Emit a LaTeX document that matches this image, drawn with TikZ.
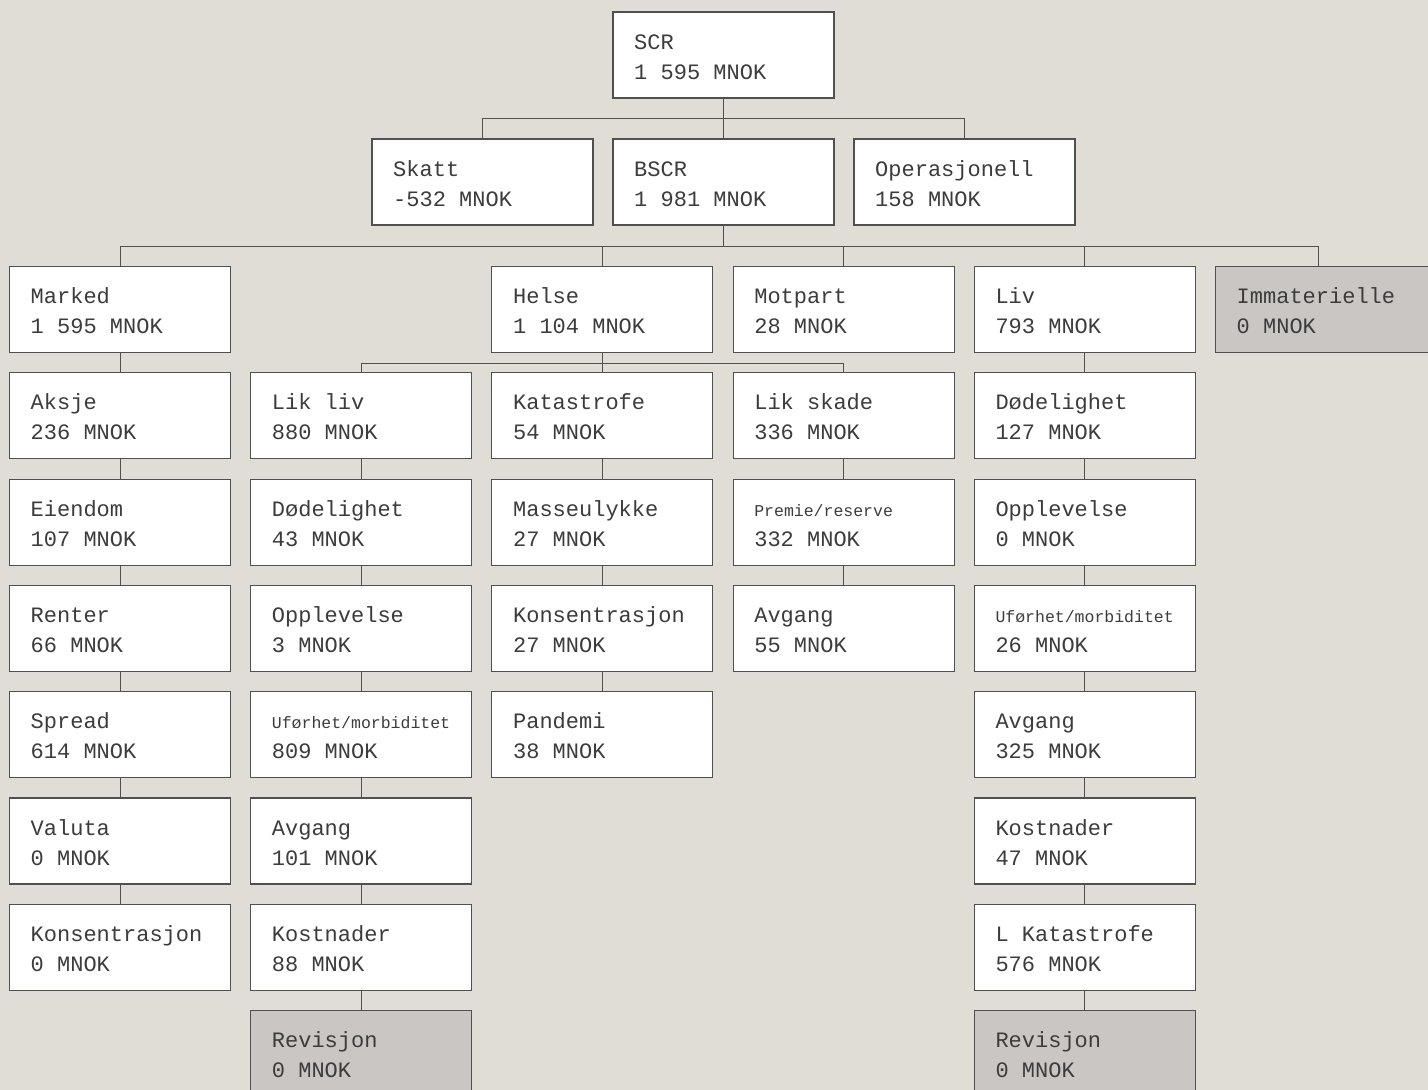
\documentclass[tikz,border=0pt]{standalone}
\usepackage{fontspec}
\newfontfamily\monofont{Liberation Mono}
\definecolor{bg}{HTML}{E0DCD6}
\definecolor{grayfill}{HTML}{CAC6C3}
\definecolor{edge}{HTML}{505050}
\definecolor{ink}{HTML}{3C3C3C}
\newcommand\smalltxt{\fontsize{16.5}{20}\selectfont}
\newcommand\bx[6]{%
  \node[boxstyle,#6] (#1) at (#2+110.5,#3+43) {};
  \node[txtstyle] (#1-a) at (#2+21,#3+37) {#4};
  \node[txtstyle] (#1-b) at (#2+21,#3+67) {#5};
}
\begin{document}
\begin{tikzpicture}[x=1pt,y=-1pt,
  boxstyle/.style={draw=edge,line width=1.1pt,fill=white,rectangle,
    minimum width=221pt,minimum height=86pt,inner sep=0pt},
  grayboxstyle/.style={fill=grayfill},
  txtstyle/.style={anchor=base west,inner sep=0pt,text=ink,
    font=\monofont\fontsize{22}{30}\selectfont},
  conn/.style={draw=edge,line width=1pt}]
\useasboundingbox (0,0) rectangle (1428,1090);
\fill[bg] (0,0) rectangle (1428,1090);
\clip (0,0) rectangle (1428,1090);
% top
\bx{scr}{613}{12}{SCR}{1 595 MNOK}{}
\bx{skatt}{372}{139}{Skatt}{-532 MNOK}{}
\bx{bscr}{613}{139}{BSCR}{1 981 MNOK}{}
\bx{op}{854}{139}{Operasjonell}{158 MNOK}{}
% column 0
\bx{marked}{9.5}{266.5}{Marked}{1 595 MNOK}{}
\bx{aksje}{9.5}{372.8}{Aksje}{236 MNOK}{}
\bx{eiendom}{9.5}{479.1}{Eiendom}{107 MNOK}{}
\bx{renter}{9.5}{585.4}{Renter}{66 MNOK}{}
\bx{spread}{9.5}{691.7}{Spread}{614 MNOK}{}
\bx{valuta}{9.5}{798}{Valuta}{0 MNOK}{}
\bx{konsm}{9.5}{904.3}{Konsentrasjon}{0 MNOK}{}
% column 1
\bx{likliv}{250.7}{372.8}{Lik liv}{880 MNOK}{}
\bx{dodl}{250.7}{479.1}{Dødelighet}{43 MNOK}{}
\bx{oppl}{250.7}{585.4}{Opplevelse}{3 MNOK}{}
\bx{ufl}{250.7}{691.7}{\smalltxt Uførhet/morbiditet}{809 MNOK}{}
\bx{avgl}{250.7}{798}{Avgang}{101 MNOK}{}
\bx{kostl}{250.7}{904.3}{Kostnader}{88 MNOK}{}
\bx{revl}{250.7}{1010.6}{Revisjon}{0 MNOK}{grayboxstyle}
% column 2
\bx{helse}{491.9}{266.5}{Helse}{1 104 MNOK}{}
\bx{kat}{491.9}{372.8}{Katastrofe}{54 MNOK}{}
\bx{masse}{491.9}{479.1}{Masseulykke}{27 MNOK}{}
\bx{konsh}{491.9}{585.4}{Konsentrasjon}{27 MNOK}{}
\bx{pand}{491.9}{691.7}{Pandemi}{38 MNOK}{}
% column 3
\bx{motpart}{733.1}{266.5}{Motpart}{28 MNOK}{}
\bx{likskade}{733.1}{372.8}{Lik skade}{336 MNOK}{}
\bx{premie}{733.1}{479.1}{\smalltxt Premie/reserve}{332 MNOK}{}
\bx{avgs}{733.1}{585.4}{Avgang}{55 MNOK}{}
% column 4
\bx{liv}{974.3}{266.5}{Liv}{793 MNOK}{}
\bx{dodv}{974.3}{372.8}{Dødelighet}{127 MNOK}{}
\bx{oppv}{974.3}{479.1}{Opplevelse}{0 MNOK}{}
\bx{ufv}{974.3}{585.4}{\smalltxt Uførhet/morbiditet}{26 MNOK}{}
\bx{avgv}{974.3}{691.7}{Avgang}{325 MNOK}{}
\bx{kostv}{974.3}{798}{Kostnader}{47 MNOK}{}
\bx{lkat}{974.3}{904.3}{L Katastrofe}{576 MNOK}{}
\bx{revv}{974.3}{1010.6}{Revisjon}{0 MNOK}{grayboxstyle}
% column 5
\bx{imm}{1215.5}{266.5}{Immaterielle}{0 MNOK}{grayboxstyle}
% bus coordinates
\coordinate (bus1) at (0,118.5);
\coordinate (bus2) at (0,246);
\coordinate (bus3) at (0,363);
% connectors level 1
\draw[conn] (scr.south) -- (bscr.north);
\draw[conn] (scr.south |- bus1) -| (skatt.north);
\draw[conn] (scr.south |- bus1) -| (op.north);
% level 2
\draw[conn] (bscr.south) -- (bscr.south |- bus2);
\draw[conn] (bscr.south |- bus2) -| (marked.north);
\draw[conn] (bscr.south |- bus2) -| (helse.north);
\draw[conn] (bscr.south |- bus2) -| (motpart.north);
\draw[conn] (bscr.south |- bus2) -| (liv.north);
\draw[conn] (bscr.south |- bus2) -| ([xshift=-7.5pt]imm.north);
% helse bus
\draw[conn] (helse.south) -- (kat.north);
\draw[conn] (helse.south |- bus3) -| (likliv.north);
\draw[conn] (helse.south |- bus3) -| (likskade.north);
% column chains
\foreach \a/\b in {marked/aksje,aksje/eiendom,eiendom/renter,renter/spread,spread/valuta,valuta/konsm,
  likliv/dodl,dodl/oppl,oppl/ufl,ufl/avgl,avgl/kostl,kostl/revl,
  kat/masse,masse/konsh,konsh/pand,
  likskade/premie,premie/avgs,
  liv/dodv,dodv/oppv,oppv/ufv,ufv/avgv,avgv/kostv,kostv/lkat,lkat/revv}
  \draw[conn] (\a.south) -- (\b.north);
\end{tikzpicture}
\end{document}
